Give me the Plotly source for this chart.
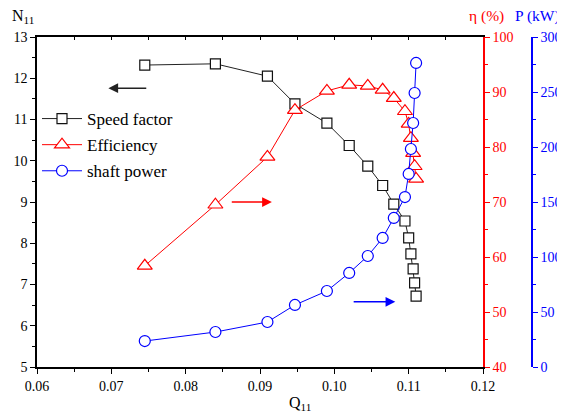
import plotly.graph_objects as go

# ---- data ----
q11 = [0.0745, 0.0840, 0.0910, 0.0947, 0.0990, 0.1020, 0.1045, 0.1065,
       0.1080, 0.1095, 0.1100, 0.1103, 0.1106, 0.1108, 0.1110]
speed_factor = [12.32, 12.35, 12.05, 11.38, 10.91, 10.37, 9.87, 9.40,
                8.95, 8.54, 8.13, 7.74, 7.38, 7.04, 6.72]
efficiency = [58.4, 69.5, 78.2, 86.7, 90.2, 91.3, 91.1, 90.4,
              88.9, 86.5, 84.2, 81.6, 78.9, 76.5, 74.2]
shaft_power = [23.6, 31.8, 40.9, 56.4, 69.1, 85.5, 100.9, 117.3,
               135.5, 154.5, 175.5, 198.2, 221.8, 249.1, 276.4]

x_ticks = [0.06, 0.07, 0.08, 0.09, 0.10, 0.11, 0.12]

FONT = "Times New Roman, Liberation Serif, serif"
RED = "#ff0000"
BLUE = "#0000ff"

fig = go.Figure()

fig.add_trace(go.Scatter(
    x=q11, y=speed_factor, name="Speed factor", mode="lines+markers",
    line=dict(color="#222222", width=1),
    marker=dict(symbol="square", size=10, color="white",
                line=dict(color="#111111", width=1.2)),
    legendgroup="a", xaxis="x", yaxis="y"))

fig.add_trace(go.Scatter(
    x=q11, y=efficiency, name="Efficiency", mode="lines+markers",
    line=dict(color=RED, width=1),
    marker=dict(symbol="triangle-up", size=13, color="white",
                line=dict(color=RED, width=1.2)),
    legendgroup="b", xaxis="x", yaxis="y2"))

fig.add_trace(go.Scatter(
    x=q11, y=shaft_power, name="shaft power", mode="lines+markers",
    line=dict(color=BLUE, width=1),
    marker=dict(symbol="circle", size=11, color="white",
                line=dict(color=BLUE, width=1.2)),
    legendgroup="c", xaxis="x2", yaxis="y3"))

dom_end = 446 / 495

tickfont = dict(family=FONT, size=14, color="black")

# page body has an 8px margin: figure sits at (8, 8)
fig.update_layout(
    width=557, height=411,
    margin=dict(l=29, r=33, t=29, b=52, autoexpand=False),
    paper_bgcolor="white", plot_bgcolor="white",
    font=dict(family=FONT, size=14, color="black"),
    showlegend=True,
    legend=dict(x=0.0, y=0.806, xanchor="left", yanchor="top",
                bgcolor="rgba(0,0,0,0)", font=dict(family=FONT, size=17),
                traceorder="grouped", tracegroupgap=1, itemwidth=40),
    xaxis=dict(domain=[0, dom_end], range=[0.06, 0.12], automargin=False,
               tickvals=x_ticks, tickformat=".2f",
               ticks="outside", ticklen=5, tickwidth=1, tickcolor="black",
               minor=dict(dtick=0.005, ticks="outside", ticklen=3, tickcolor="black"),
               showline=True, linecolor="black", linewidth=1.5,
               showgrid=False, zeroline=False, tickfont=tickfont),
    xaxis2=dict(domain=[0, dom_end], range=[0.06, 0.12], overlaying="x",
                side="top", anchor="y", tickvals=x_ticks, automargin=False,
                ticks="inside", ticklen=3, tickcolor="black",
                minor=dict(dtick=0.005, ticks="inside", ticklen=3, tickcolor="black"),
                showticklabels=False, showline=True, linecolor="black",
                linewidth=1.5, showgrid=False, zeroline=False),
    yaxis=dict(range=[5, 13], dtick=1, ticks="outside", ticklen=5,
               tickcolor="black", automargin=False,
               minor=dict(dtick=0.5, ticks="outside", ticklen=3, tickcolor="black"),
               showline=True, linecolor="black", linewidth=1.5,
               showgrid=False, zeroline=False, tickfont=tickfont),
    yaxis2=dict(range=[40, 100], dtick=10, overlaying="y", side="right",
                anchor="x", ticks="outside", ticklen=5, tickcolor=RED,
                automargin=False,
                minor=dict(dtick=5, ticks="outside", ticklen=3, tickcolor=RED),
                showline=True, linecolor=RED, linewidth=1.5,
                showgrid=False, zeroline=False,
                tickfont=dict(family=FONT, size=14, color=RED)),
    yaxis3=dict(range=[0, 300], dtick=50, overlaying="y", side="right",
                anchor="free", position=1.0, ticks="outside", ticklen=5,
                tickcolor=BLUE, automargin=False,
                minor=dict(dtick=25, ticks="outside", ticklen=3, tickcolor=BLUE),
                showline=True, linecolor=BLUE, linewidth=1.5,
                showgrid=False, zeroline=False,
                tickfont=dict(family=FONT, size=14, color=BLUE)),
)

annotations = [
    dict(text="N<sub>11</sub>", xref="paper", yref="paper", x=-0.054, y=1.062,
         xanchor="left", yanchor="middle", showarrow=False,
         font=dict(family=FONT, size=16, color="black")),
    dict(text="Q<sub>11</sub>", xref="paper", yref="paper", x=0.532, y=-0.11,
         xanchor="center", yanchor="middle", showarrow=False,
         font=dict(family=FONT, size=16, color="black")),
    dict(text="η (%)", xref="paper", yref="paper", x=0.868, y=1.064,
         xanchor="left", yanchor="middle", showarrow=False,
         font=dict(family=FONT, size=15.5, color=RED)),
    dict(text="P (kW)", xref="paper", yref="paper", x=0.962, y=1.064,
         xanchor="left", yanchor="middle", showarrow=False,
         font=dict(family=FONT, size=15.5, color=BLUE)),
    # arrows
    dict(x=0.0696, y=11.76, ax=0.0749, ay=11.76, xref="x", yref="y",
         axref="x", ayref="y", text="", showarrow=True, arrowhead=2,
         arrowsize=1.3, arrowwidth=1.5, arrowcolor="#222222"),
    dict(x=0.0916, y=9.0, ax=0.0860, ay=9.0, xref="x", yref="y",
         axref="x", ayref="y", text="", showarrow=True, arrowhead=2,
         arrowsize=1.3, arrowwidth=1.5, arrowcolor=RED),
    dict(x=0.1082, y=6.58, ax=0.1024, ay=6.58, xref="x", yref="y",
         axref="x", ayref="y", text="", showarrow=True, arrowhead=2,
         arrowsize=1.3, arrowwidth=1.5, arrowcolor=BLUE),
]
fig.update_layout(annotations=annotations)

fig.write_html("out.html")
